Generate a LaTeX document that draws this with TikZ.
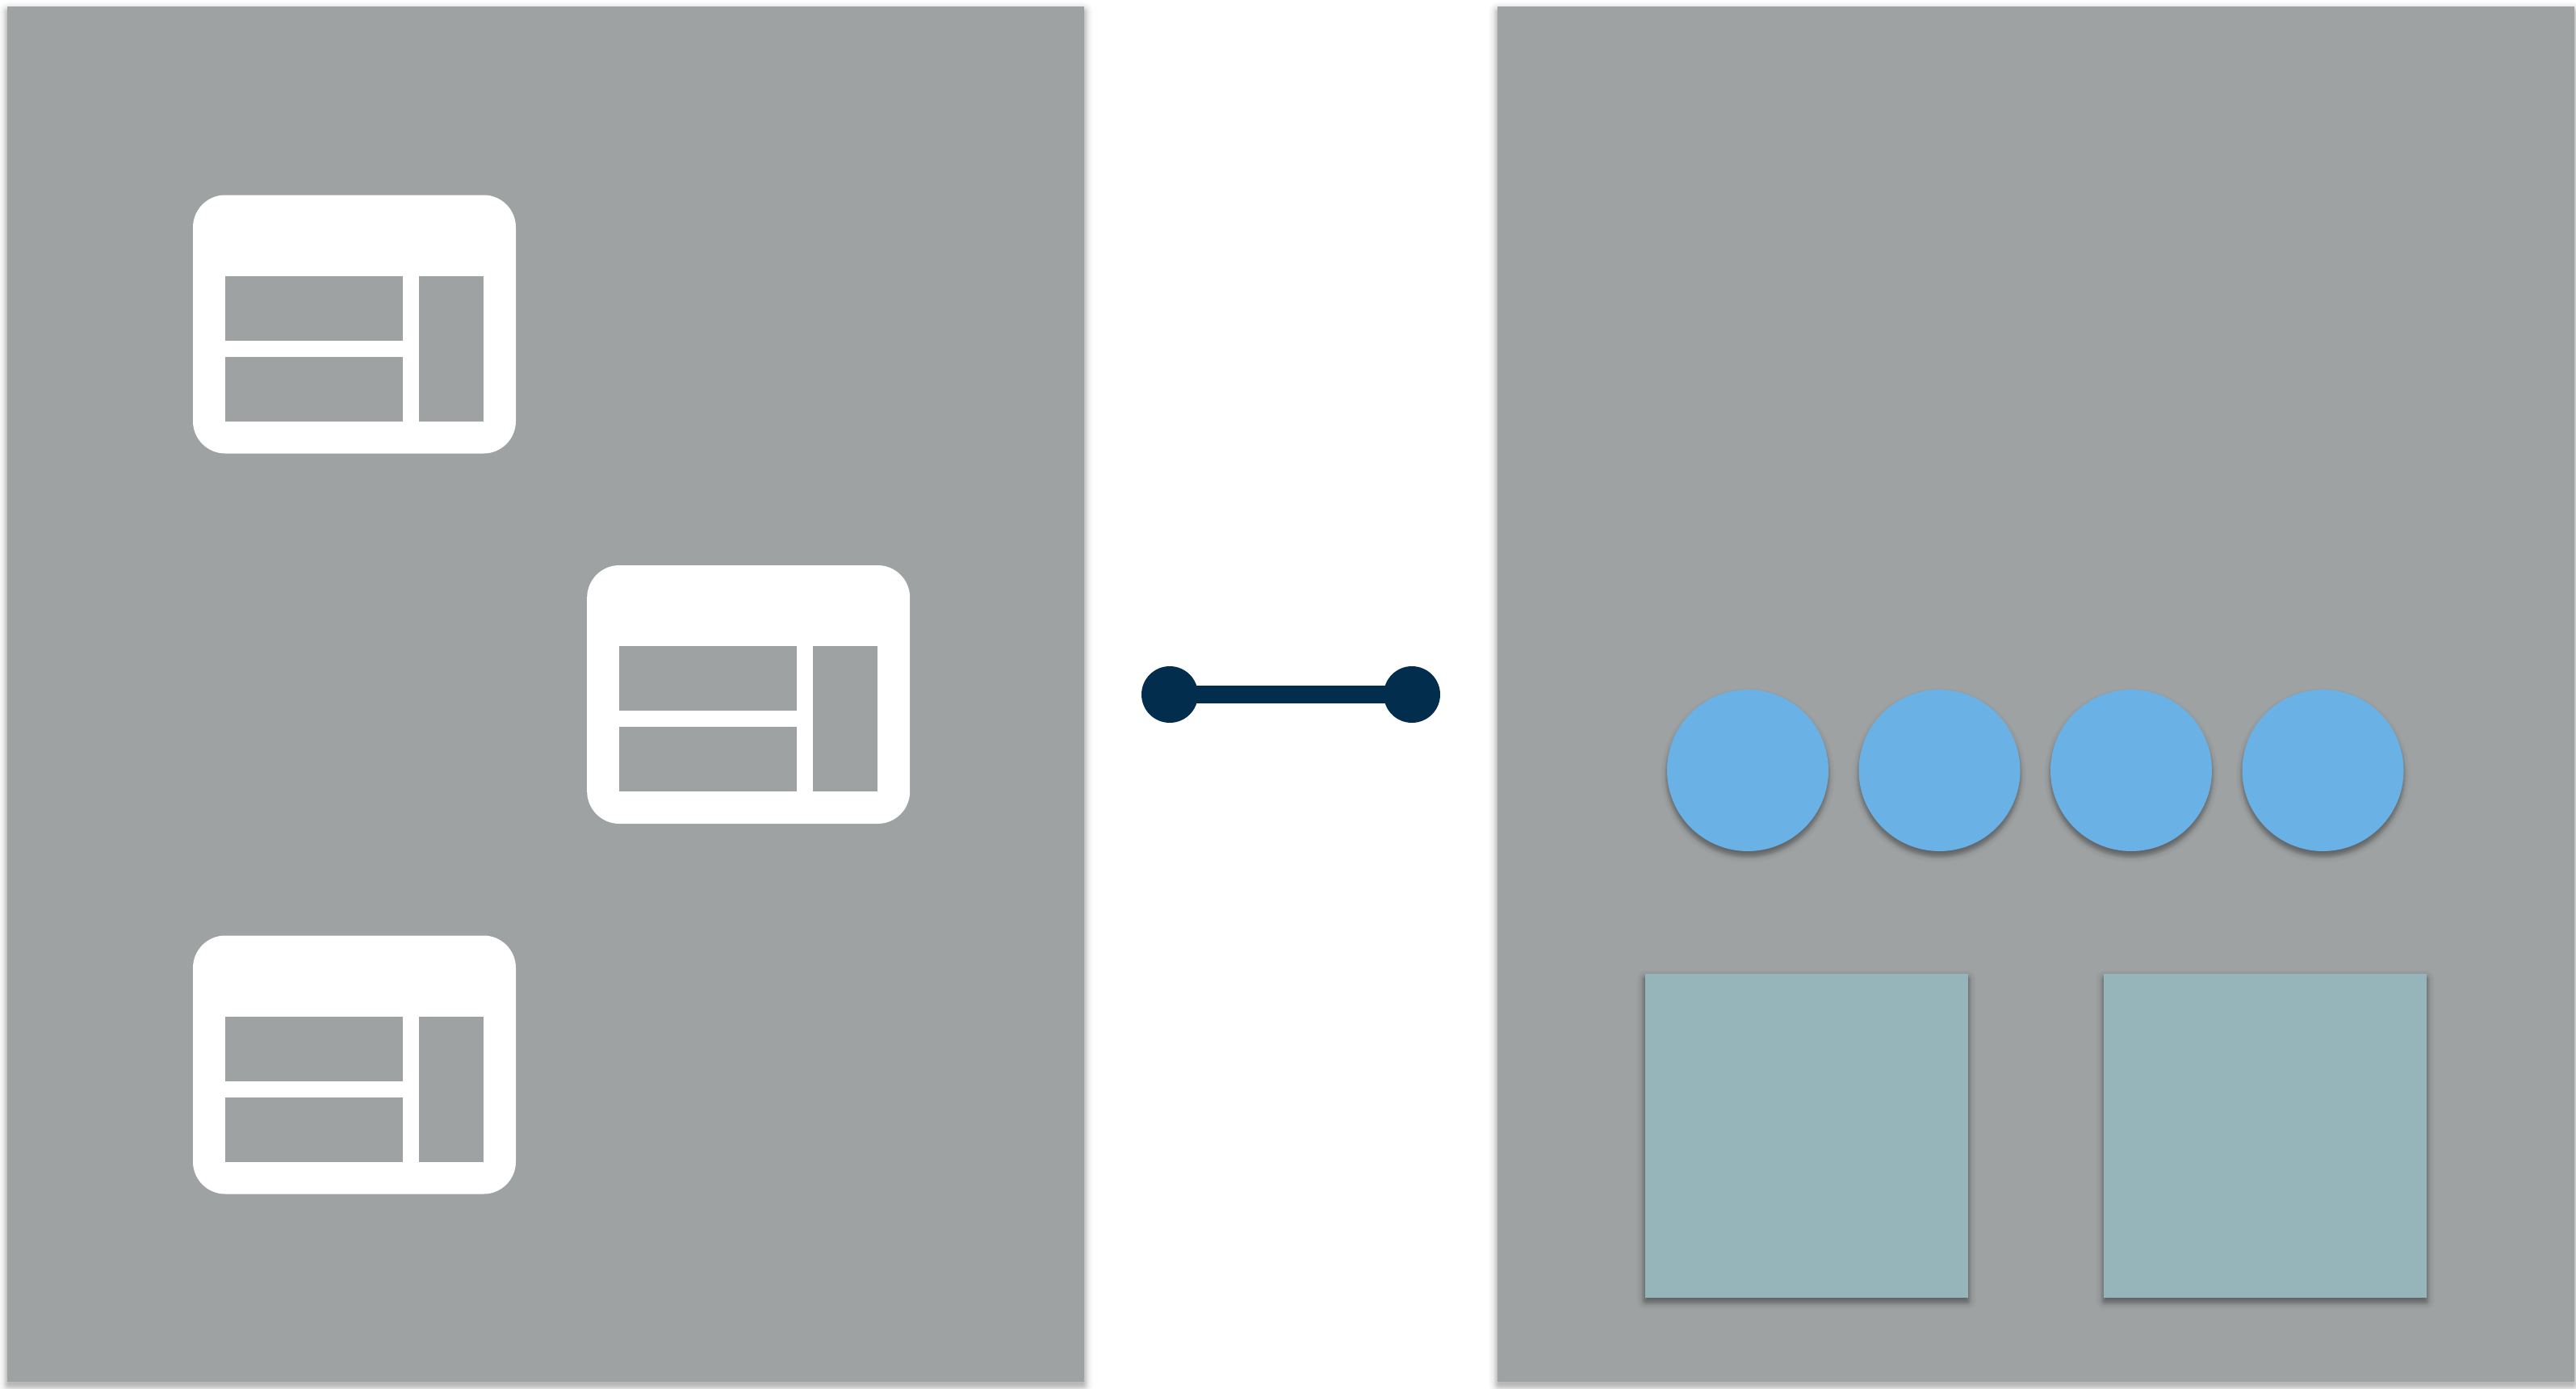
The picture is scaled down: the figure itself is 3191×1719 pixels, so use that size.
\documentclass[tikz,border=0pt]{standalone}
\definecolor{panelgray}{HTML}{9EA2A3}
\definecolor{linkblue}{HTML}{022D4C}
\definecolor{ballblue}{HTML}{6AB1E5}
\definecolor{boxteal}{HTML}{95B5BA}
\tikzset{
  x=1pt,y=-1pt,
  base/.style={inner sep=0pt,outer sep=0pt,draw=none},
  panel/.style={base,rectangle,fill=panelgray,minimum width=1334pt,minimum height=1703pt},
  iconbody/.style={base,rectangle,fill=white,rounded corners=40pt,minimum width=400pt,minimum height=320pt},
  pane/.style 2 args={base,rectangle,fill=panelgray,minimum width=#1,minimum height=#2},
  endball/.style={base,circle,fill=linkblue,minimum size=70pt},
  ball/.style={base,circle,fill=ballblue,minimum size=200pt},
  tealbox/.style={base,rectangle,fill=boxteal,minimum width=400pt,minimum height=401pt},
  shadowlayer/.style={fill=black,opacity=#1}
}
% soft shadow of a rectangle: x0,y0,x1,y1,opacity per layer,spread range,y offset
\newcommand{\softrect}[7]{%
  \foreach \e in {#6}{%
    \fill[shadowlayer=#5,rounded corners={max(\e+2,0.1)*1pt}]
      ({#1-\e},{#2-\e+#7}) rectangle ({#3+\e},{#4+\e+#7});
  }%
}
% soft shadow of a circle: cx,cy,r
\newcommand{\softdisc}[3]{%
  \foreach \e in {8,...,-1}{%
    \fill[shadowlayer=0.012] (#1,{#2+6}) circle[radius={(#3+\e)*1pt}];
  }%
  \foreach \e in {3,...,-5}{%
    \fill[shadowlayer=0.035] (#1,{#2+6}) circle[radius={(#3+\e)*1pt}];
  }%
}
% table icon: name, centre x, centre y
\newcommand{\tableicon}[3]{%
  \node[iconbody] (#1) at (#2,#3) {};
  \node[pane={220pt}{80pt}] (#1a) at ({#2-50},{#3-20}) {};
  \node[pane={220pt}{80pt}] (#1b) at ({#2-50},{#3+80}) {};
  \node[pane={80pt}{180pt}] (#1c) at ({#2+120},{#3+30}) {};
}
\begin{document}
\begin{tikzpicture}
\useasboundingbox (0,0) rectangle (3191,1719);
\fill[white] (0,0) rectangle (3191,1719);
% panel shadows
\softrect{9}{8}{1343}{1711}{0.012}{11,10,...,0}{5}
\softrect{9}{8}{1343}{1711}{0.02}{5,4,...,-2}{5}
\softrect{1855}{8}{3189}{1711}{0.012}{11,10,...,0}{5}
\softrect{1855}{8}{3189}{1711}{0.02}{5,4,...,-2}{5}
\node[panel] (left) at (676,859.5) {};
\node[panel] (right) at (2522,859.5) {};
% left panel icons
\tableicon{tableA}{439}{401.5}
\tableicon{tableB}{927.2}{860}
\tableicon{tableC}{439}{1318.5}
% link
\node[endball] (linkL) at (1449,860) {};
\node[endball] (linkR) at (1749,860) {};
\draw[linkblue,line width=22pt] (linkL.center) -- (linkR.center);
% circles
\softdisc{2165}{954}{100}
\softdisc{2402.5}{954}{100}
\softdisc{2640}{954}{100}
\softdisc{2877.5}{954}{100}
\node[ball] (b1) at (2165,954) {};
\node[ball] (b2) at (2402.5,954) {};
\node[ball] (b3) at (2640,954) {};
\node[ball] (b4) at (2877.5,954) {};
% squares
\softrect{2037}{1206}{2438}{1607}{0.012}{10,9,...,0}{5}
\softrect{2037}{1206}{2438}{1607}{0.03}{4,3,...,-4}{5}
\softrect{2606}{1206}{3006}{1607}{0.012}{10,9,...,0}{5}
\softrect{2606}{1206}{3006}{1607}{0.03}{4,3,...,-4}{5}
\node[tealbox] (s1) at (2237.5,1406.5) {};
\node[tealbox] (s2) at (2806,1406.5) {};
\end{tikzpicture}
\end{document}
